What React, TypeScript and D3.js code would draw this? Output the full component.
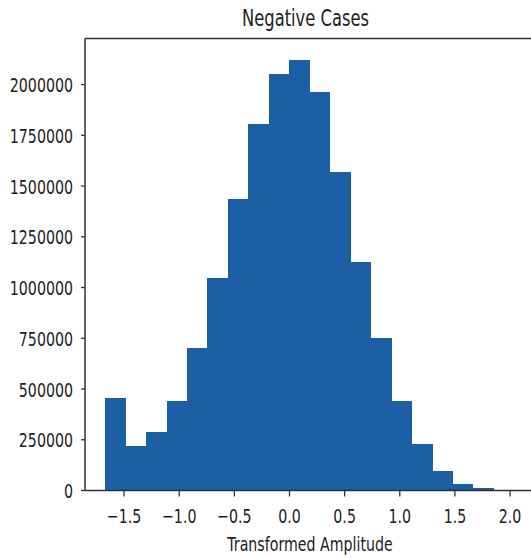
import { useEffect, useRef } from "react";
import * as d3 from "d3";

// histogram bins
const BIN_EDGES = [-1.67, -1.485, -1.3, -1.114, -0.929, -0.744, -0.559, -0.374, -0.189, -0.003, 0.182, 0.367, 0.552, 0.737, 0.922, 1.108, 1.293, 1.478, 1.663, 1.848];
const COUNTS = [455000, 221000, 290000, 443000, 700000, 1046000, 1437000, 1806000, 2052000, 2121000, 1961000, 1569000, 1128000, 750000, 443000, 229000, 98000, 34000, 11000];
const X_TICKS = [-1.5, -1.0, -0.5, 0.0, 0.5, 1.0, 1.5, 2.0];
const Y_TICKS = [0, 250000, 500000, 750000, 1000000, 1250000, 1500000, 1750000, 2000000];

const TITLE = "Negative Cases";
const X_LABEL = "Transformed Amplitude";

export default function App() {
  const svgRef = useRef<SVGSVGElement>(null);

  useEffect(() => {
    if (!svgRef.current) return;
    const W = 531;
    const H = 558;
    const left = 85, top = 38.5, bottom = 490.5;
    const sx = 0.71; // picture is squeezed sideways
    const font = "'DejaVu Sans', sans-serif";
    const ink = "#222";

    const svg = d3.select(svgRef.current);
    svg.selectAll("*").remove();
    svg.attr("width", W).attr("height", H);

    const x = d3.scaleLinear().domain([-1.854, 2.217]).range([left, 534]);
    const y = d3.scaleLinear().domain([0, 2227000]).range([bottom, top]);

    const bins = COUNTS.map((c, i) => ({ x0: BIN_EDGES[i], x1: BIN_EDGES[i + 1], c }));

    // bars
    svg.append("g")
      .attr("shape-rendering", "crispEdges")
      .selectAll("rect")
      .data(bins)
      .join("rect")
      .attr("x", (d) => x(d.x0))
      .attr("width", (d) => x(d.x1) - x(d.x0) + 0.5)
      .attr("y", (d) => y(d.c))
      .attr("height", (d) => y(0) - y(d.c))
      .attr("fill", "#1c5fa5");

    // spines
    svg.append("line").attr("x1", left).attr("x2", W).attr("y1", top).attr("y2", top)
      .attr("stroke", "#333").attr("stroke-width", 1.5);
    svg.append("line").attr("x1", left).attr("x2", W).attr("y1", bottom).attr("y2", bottom)
      .attr("stroke", "#333").attr("stroke-width", 1.5);
    svg.append("line").attr("x1", left).attr("x2", left).attr("y1", top).attr("y2", bottom)
      .attr("stroke", "#333").attr("stroke-width", 1.5);

    // x ticks
    const xt = svg.append("g").selectAll("g").data(X_TICKS).join("g");
    xt.append("line")
      .attr("x1", (d) => x(d)).attr("x2", (d) => x(d))
      .attr("y1", bottom).attr("y2", bottom + 6)
      .attr("stroke", "#333").attr("stroke-width", 1.3);
    xt.append("text")
      .attr("transform", (d) => `translate(${x(d)},523) scale(${sx},1)`)
      .attr("text-anchor", "middle")
      .attr("font-family", font).attr("font-size", 20).attr("fill", ink)
      .text((d) => d3.format(".1f")(d).replace("-", "\u2212"));

    // y ticks
    const yt = svg.append("g").selectAll("g").data(Y_TICKS).join("g");
    yt.append("line")
      .attr("x1", left - 4).attr("x2", left)
      .attr("y1", (d) => y(d)).attr("y2", (d) => y(d))
      .attr("stroke", "#333").attr("stroke-width", 1.3);
    yt.append("text")
      .attr("transform", (d) => `translate(73,${y(d) + 7.5}) scale(${sx},1)`)
      .attr("text-anchor", "end")
      .attr("font-family", font).attr("font-size", 20).attr("fill", ink)
      .text((d) => String(d));

    // title + axis label
    svg.append("text")
      .attr("transform", `translate(305.5,26) scale(${sx},1)`)
      .attr("text-anchor", "middle")
      .attr("font-family", font).attr("font-size", 23).attr("fill", ink)
      .text(TITLE);
    svg.append("text")
      .attr("transform", `translate(310,551) scale(${sx},1)`)
      .attr("text-anchor", "middle")
      .attr("font-family", font).attr("font-size", 20).attr("fill", ink)
      .text(X_LABEL);
  }, []);

  return (
    <svg
      ref={svgRef}
      style={{ position: "fixed", left: 0, top: 0, background: "#fff" }}
    />
  );
}
